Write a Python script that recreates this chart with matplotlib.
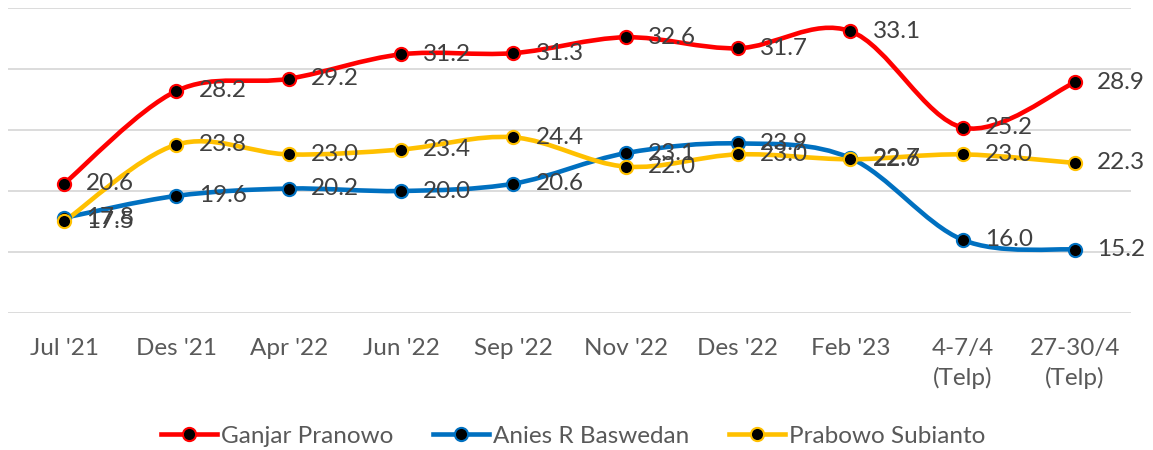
import matplotlib
matplotlib.use("Agg")
import matplotlib.pyplot as plt
from matplotlib.path import Path
from matplotlib.patches import PathPatch
from matplotlib.lines import Line2D

plt.rcParams['font.family'] = ['Lato', 'DejaVu Sans']

# survey periods
periods = ["Jul '21", "Des '21", "Apr '22", "Jun '22", "Sep '22", "Nov '22",
           "Des '22", "Feb '23", "4-7/4\n(Telp)", "27-30/4\n(Telp)"]

ganjar = [20.6, 28.2, 29.2, 31.2, 31.3, 32.6, 31.7, 33.1, 25.2, 28.9]
anies = [17.8, 19.6, 20.2, 20.0, 20.6, 23.1, 23.9, 22.7, 16.0, 15.2]
prabowo = [17.5, 23.8, 23.0, 23.4, 24.4, 22.0, 23.0, 22.6, 23.0, 22.3]

series_names = ["Ganjar Pranowo", "Anies R Baswedan", "Prabowo Subianto"]
series_colors = ["#FF0000", "#0070C0", "#FFC000"]


def smooth_path(xs, ys):
    # excel-style smoothed line (catmull-rom bezier through the points)
    pts = list(zip(xs, ys))
    verts = [pts[0]]
    codes = [Path.MOVETO]
    n = len(pts)
    for i in range(n - 1):
        p0 = pts[i - 1] if i > 0 else pts[i]
        p1 = pts[i]
        p2 = pts[i + 1]
        p3 = pts[i + 2] if i + 2 < n else pts[i + 1]
        c1 = (p1[0] + (p2[0] - p0[0]) / 6, p1[1] + (p2[1] - p0[1]) / 6)
        c2 = (p2[0] - (p3[0] - p1[0]) / 6, p2[1] - (p3[1] - p1[1]) / 6)
        verts += [c1, c2, p2]
        codes += [Path.CURVE4] * 3
    return Path(verts, codes)


fig = plt.figure(figsize=(11.53, 4.5), dpi=100)
ax = fig.add_axes([8 / 1153, 1 - 313 / 450, 1123 / 1153, 305 / 450])

x = list(range(len(periods)))
handles = []
for vals, name, col in zip([ganjar, anies, prabowo], series_names, series_colors):
    ax.add_patch(PathPatch(smooth_path(x, vals), facecolor='none', edgecolor=col,
                           lw=3.3, capstyle='round', zorder=3))
    ax.plot(x, vals, linestyle='none', marker='o', markersize=9.5,
            markerfacecolor='black', markeredgecolor=col, markeredgewidth=1.5, zorder=4)
    for xi, v in zip(x, vals):
        ax.annotate(f"{v:.1f}", (xi, v), xytext=(16, 0), textcoords='offset points',
                    ha='left', va='center', fontsize=17.5, color='#404040', zorder=10)
    handles.append(Line2D([], [], color=col, lw=3.3, marker='o', markersize=9.5,
                          markerfacecolor='black', markeredgecolor=col,
                          markeredgewidth=1.5, label=name))

ax.set_xlim(-0.5, len(periods) - 0.5)
ax.set_ylim(10, 35)
ax.set_yticks([10, 15, 20, 25, 30, 35])
ax.yaxis.grid(True, color='#D9D9D9', lw=1.3)
ax.set_axisbelow(True)
ax.tick_params(axis='y', left=False, labelleft=False)
ax.set_xticks(x)
ax.set_xticklabels(periods, fontsize=17.5, color='#595959', linespacing=1.45)
ax.tick_params(axis='x', length=0, pad=18)
for s in ax.spines.values():
    s.set_visible(False)

fig.legend(handles=handles, loc='center', bbox_to_anchor=(0.497, 0.031), ncol=3,
           frameon=False, fontsize=17.5, labelcolor='#595959', handlelength=2.3,
           handletextpad=0.15, columnspacing=1.65, numpoints=1)

fig.savefig("out.png", dpi=100)
